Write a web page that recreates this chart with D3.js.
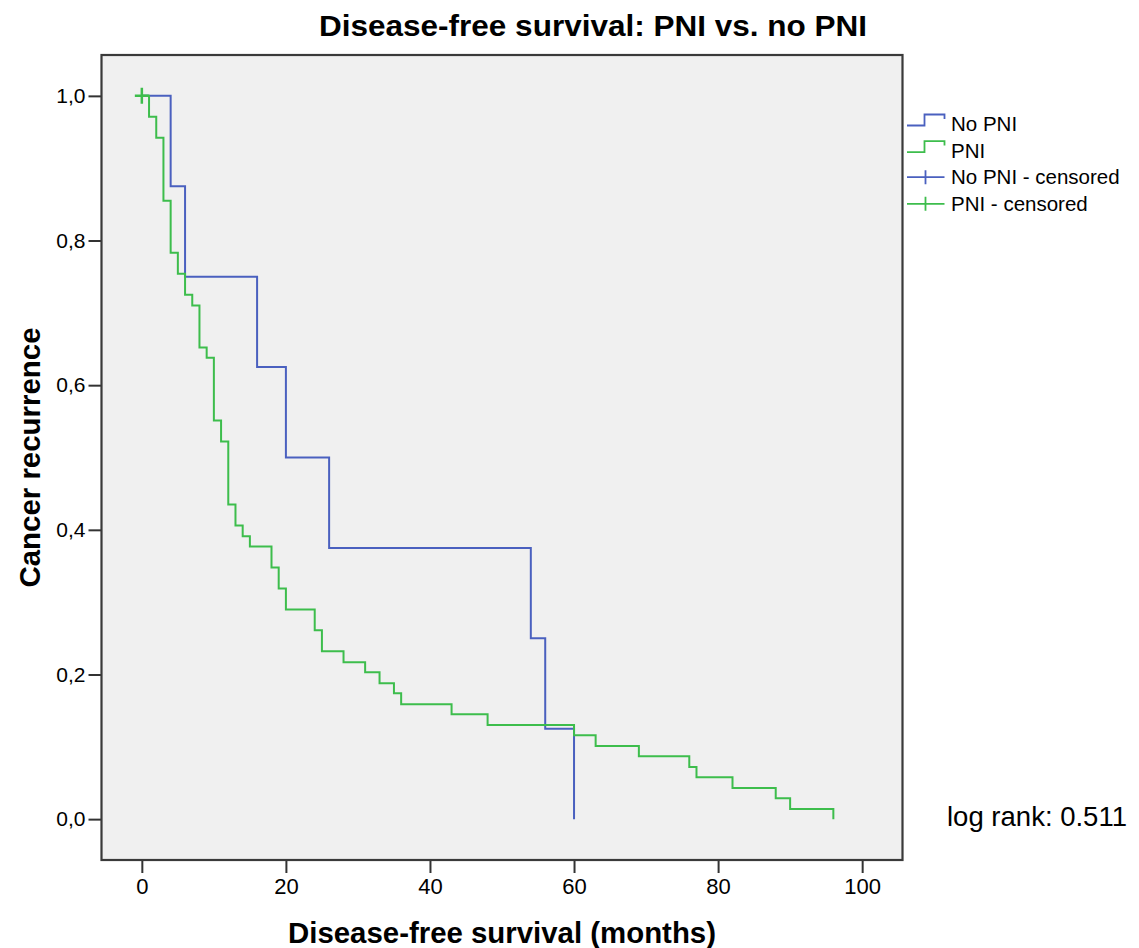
<!DOCTYPE html>
<html>
<head>
<meta charset="utf-8">
<script src="https://cdn.jsdelivr.net/npm/d3@7"></script>
<style>
  body { margin: 0; background: #fff; }
  text { font-family: "Liberation Sans", Arial, sans-serif; fill: #000; }
</style>
</head>
<body>
<div id="km-chart-area"></div>
<script>
// Kaplan-Meier estimates
var noPniTime = [0, 4, 6, 16, 20, 26, 54, 56, 60];
var noPniSurv = [1.0, 0.875, 0.75, 0.625, 0.5, 0.375, 0.25, 0.125, 0.0];

var pniTime = [0, 1, 2, 3, 4, 5, 6, 7, 8, 9, 10, 11, 12, 13, 14, 15, 18, 19, 20, 24,
    25, 28, 31, 33, 35, 36, 43, 48, 60, 63, 69, 76, 77, 82, 88, 90, 96];
var pniSurv = [1.0, 0.971, 0.942, 0.855, 0.783, 0.754, 0.725, 0.710, 0.652, 0.638,
    0.551, 0.522, 0.435, 0.406, 0.391, 0.377, 0.348, 0.319, 0.290, 0.261,
    0.232, 0.217, 0.203, 0.188, 0.174, 0.159, 0.145, 0.130, 0.116, 0.101,
    0.087, 0.072, 0.058, 0.043, 0.029, 0.014, 0.0];

var noPniCensoredTime = [];
var noPniCensoredSurv = [];
var pniCensoredTime = [0];
var pniCensoredSurv = [1.0];

var xTicks = [0, 20, 40, 60, 80, 100];
var yTicks = [0, 0.2, 0.4, 0.6, 0.8, 1.0];
var legendLabels = ["No PNI", "PNI", "No PNI - censored", "PNI - censored"];

var blue = "#4a60bf";
var green = "#3dbd4c";

function KMChart(_parentElement) {
    this.parentElement = _parentElement;
    this.initVis();
}

KMChart.prototype.initVis = function () {
    var vis = this;

    vis.frame = { left: 101.5, top: 55, right: 902.5, bottom: 860 };

    vis.svg = d3.select("#" + vis.parentElement).append("svg")
        .attr("width", 1139)
        .attr("height", 948);

    vis.x = d3.scaleLinear()
        .domain([-5.6, 105.6])
        .range([vis.frame.left, vis.frame.right]);

    vis.y = d3.scaleLinear()
        .domain([-0.0565, 1.0565])
        .range([vis.frame.bottom, vis.frame.top]);

    vis.updateVis();
}

KMChart.prototype.updateVis = function () {
    var vis = this;
    var f = vis.frame;

    // plot background
    vis.svg.append("rect")
        .attr("x", f.left)
        .attr("y", f.top)
        .attr("width", f.right - f.left)
        .attr("height", f.bottom - f.top)
        .attr("fill", "#f0f0f0");

    var commaFormat = d3.formatLocale({ decimal: ",", thousands: ".", grouping: [3], currency: ["", ""] }).format(".1f");

    var yAxis = vis.svg.append("g")
        .attr("transform", "translate(" + f.left + ",0)")
        .call(d3.axisLeft(vis.y).tickValues(yTicks).tickFormat(commaFormat)
            .tickSize(13).tickPadding(3).tickSizeOuter(0));
    yAxis.select(".domain").remove();
    yAxis.selectAll("line").attr("stroke", "#333").attr("stroke-width", 2);
    yAxis.selectAll("text")
        .style("font-family", "'Liberation Sans', Arial, sans-serif")
        .style("font-size", "21px")
        .attr("fill", "#222");

    var xAxis = vis.svg.append("g")
        .attr("transform", "translate(0," + f.bottom + ")")
        .call(d3.axisBottom(vis.x).tickValues(xTicks)
            .tickSize(13).tickPadding(5).tickSizeOuter(0));
    xAxis.select(".domain").remove();
    xAxis.selectAll("line").attr("stroke", "#333").attr("stroke-width", 2);
    xAxis.selectAll("text")
        .style("font-family", "'Liberation Sans', Arial, sans-serif")
        .style("font-size", "22px")
        .attr("fill", "#222");

    // frame
    vis.svg.append("rect")
        .attr("x", f.left)
        .attr("y", f.top)
        .attr("width", f.right - f.left)
        .attr("height", f.bottom - f.top)
        .attr("fill", "none")
        .attr("stroke", "#3a3a3a")
        .attr("stroke-width", 2.2);

    var line = d3.line()
        .x(function (d) { return vis.x(d.t); })
        .y(function (d) { return vis.y(d.s); })
        .curve(d3.curveStepAfter);

    var series = [
        { time: noPniTime, surv: noPniSurv, color: blue },
        { time: pniTime, surv: pniSurv, color: green }
    ];

    series.forEach(function (sr) {
        var pts = sr.time.map(function (t, i) { return { t: t, s: sr.surv[i] }; });
        vis.svg.append("path")
            .datum(pts)
            .attr("fill", "none")
            .attr("stroke", sr.color)
            .attr("stroke-width", 2)
            .attr("d", line);
    });

    // censored marks
    var censored = [
        { time: noPniCensoredTime, surv: noPniCensoredSurv, color: blue },
        { time: pniCensoredTime, surv: pniCensoredSurv, color: green }
    ];
    censored.forEach(function (c) {
        c.time.forEach(function (t, i) {
            var cx = vis.x(t), cy = vis.y(c.surv[i]);
            vis.svg.append("path")
                .attr("d", "M" + (cx - 7) + "," + cy + "H" + (cx + 7) +
                    "M" + cx + "," + (cy - 8) + "V" + (cy + 8))
                .attr("stroke", c.color)
                .attr("stroke-width", 2.5)
                .attr("fill", "none");
        });
    });

    // legend
    var legendColors = [blue, green, blue, green];
    var legend = vis.svg.append("g")
        .attr("transform", "translate(907,124)");
    legendLabels.forEach(function (label, i) {
        var g = legend.append("g").attr("transform", "translate(0," + (i * 26.6) + ")");
        if (i < 2) {
            g.append("path")
                .attr("d", "M0,1.5H17.5V-9.5H37.5V-5")
                .attr("fill", "none")
                .attr("stroke", legendColors[i])
                .attr("stroke-width", 1.8);
        } else {
            g.append("path")
                .attr("d", "M0,0H37.5M18.5,-7V7")
                .attr("fill", "none")
                .attr("stroke", legendColors[i])
                .attr("stroke-width", 1.8);
        }
        g.append("text")
            .attr("x", 44)
            .attr("y", 0)
            .attr("dy", "0.35em")
            .style("font-size", "20.5px")
            .text(label);
    });

    // titles
    vis.svg.append("text")
        .attr("x", 593)
        .attr("y", 36)
        .attr("text-anchor", "middle")
        .attr("textLength", 548)
        .attr("lengthAdjust", "spacingAndGlyphs")
        .style("font-size", "30px")
        .style("font-weight", "bold")
        .text("Disease-free survival: PNI vs. no PNI");

    vis.svg.append("text")
        .attr("x", (f.left + f.right) / 2)
        .attr("y", 943)
        .attr("text-anchor", "middle")
        .attr("textLength", 428)
        .attr("lengthAdjust", "spacingAndGlyphs")
        .style("font-size", "29px")
        .style("font-weight", "bold")
        .text("Disease-free survival (months)");

    vis.svg.append("text")
        .attr("transform", "translate(40," + ((f.top + f.bottom) / 2) + ") rotate(-90)")
        .attr("text-anchor", "middle")
        .attr("textLength", 260)
        .attr("lengthAdjust", "spacingAndGlyphs")
        .style("font-size", "30px")
        .style("font-weight", "bold")
        .text("Cancer recurrence");

    vis.svg.append("text")
        .attr("x", 947)
        .attr("y", 826)
        .attr("textLength", 180)
        .attr("lengthAdjust", "spacingAndGlyphs")
        .style("font-size", "28px")
        .text("log rank: 0.511");
}

var kmChart = new KMChart("km-chart-area");
</script>
</body>
</html>
